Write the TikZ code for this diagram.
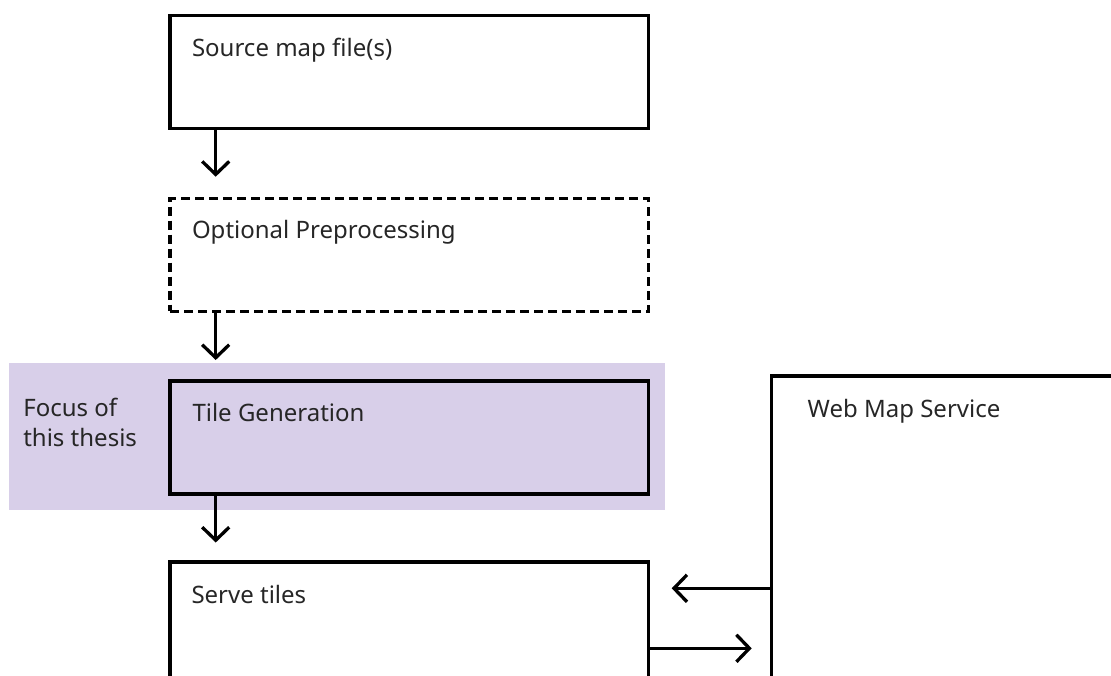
\documentclass[tikz,border=0pt]{standalone}
\usepackage{fontspec}
\setmainfont{Noto Sans}
\usetikzlibrary{arrows.meta,calc}
\definecolor{focusfill}{RGB}{216,207,233}
\definecolor{txtcol}{RGB}{38,38,38}
\tikzset{
  stagebox/.style={draw=black, line width=3.3pt, rectangle, minimum width=478.3pt, minimum height=113pt, inner sep=0pt, outer sep=0pt, anchor=north west},
  dashbox/.style={stagebox, dash pattern=on 9pt off 5pt},
  lbl/.style={text=txtcol, font=\fontsize{24pt}{30.7pt}\selectfont, inner sep=0pt, outer sep=0pt, anchor=base west},
  arr/.style={line width=3.3pt, -{Straight Barb[length=13pt,width=27pt,line width=3.3pt]}},
}
\begin{document}
\begin{tikzpicture}[x=1pt,y=-1pt]
\useasboundingbox (0,0) rectangle (1111,675);
\clip (0,0) rectangle (1111,675);
% focus band
\node[fill=focusfill, rectangle, minimum width=656pt, minimum height=147.3pt, inner sep=0pt, outer sep=0pt, anchor=north west] (focus) at (9,362.7) {};
% boxes
\node[stagebox] (src) at (170,15.7) {};
\node[dashbox] (pre) at (170,198.3) {};
\node[stagebox, fill=focusfill] (tile) at (170,381) {};
\node[stagebox, minimum height=200pt] (serve) at (170,562) {};
\node[stagebox, minimum width=400pt, minimum height=400pt] (wms) at (771.7,376) {};
% labels
\node[lbl] (srcl) at ($(src.north west)+(22,41)$) {Source map file(s)};
\node[lbl] (prel) at ($(pre.north west)+(22,40)$) {Optional Preprocessing};
\node[lbl] (tilel) at ($(tile.north west)+(22.5,40)$) {Tile Generation};
\node[lbl] (servel) at ($(serve.north west)+(21.5,41)$) {Serve tiles};
\node[lbl] (wmsl) at ($(wms.north west)+(36,41.3)$) {Web Map Service};
\node[lbl, align=left] (focusl) at (23.3,446.7) {Focus of\\this thesis};
% connectors
\draw[arr] ($(src.south west)+(45.7,0)$) -- ($(pre.north west)+(45.7,-21.6)$);
\draw[arr] ($(pre.south west)+(45.7,0)$) -- ($(tile.north west)+(45.7,-21)$);
\draw[arr] ($(tile.south west)+(45.7,0)$) -- ($(serve.north west)+(45.7,-19.5)$);
\draw[arr] ($(wms.north west)+(0,212.3)$) -- ($(serve.north east)+(23.4,26.3)$);
\draw[arr] ($(serve.north east)+(0,86.3)$) -- ($(wms.north west)+(-20,272.3)$);
\end{tikzpicture}
\end{document}
